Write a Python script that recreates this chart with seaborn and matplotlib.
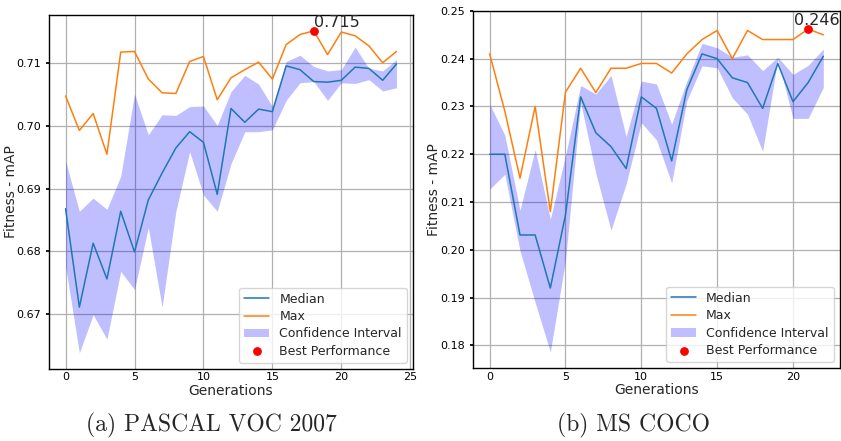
import numpy as np
import pandas as pd
import matplotlib
matplotlib.use("Agg")
import matplotlib.pyplot as plt
import seaborn as sns

# PASCAL VOC 2007, generations 0..24
median_voc = [0.6868, 0.6711, 0.6813, 0.6756, 0.6864, 0.6799, 0.6882, 0.6925, 0.6965, 0.6991,
              0.6974, 0.6891, 0.7028, 0.7006, 0.7027, 0.7023, 0.7096, 0.7090, 0.7071, 0.7070,
              0.7073, 0.7094, 0.7092, 0.7073, 0.7099]
max_voc = [0.7048, 0.6993, 0.7020, 0.6955, 0.7118, 0.7119, 0.7075, 0.7053, 0.7052, 0.7103,
           0.7111, 0.7042, 0.7077, 0.7090, 0.7102, 0.7075, 0.7130, 0.7146, 0.7152, 0.7114,
           0.7150, 0.7144, 0.7128, 0.7101, 0.7119]
upper_voc = [0.6944, 0.6864, 0.6885, 0.6867, 0.6920, 0.7051, 0.6986, 0.7018, 0.7017, 0.7031,
             0.7032, 0.7001, 0.7055, 0.7081, 0.7067, 0.7031, 0.7103, 0.7113, 0.7095, 0.7088,
             0.7090, 0.7126, 0.7092, 0.7088, 0.7106]
lower_voc = [0.6776, 0.6638, 0.6699, 0.6660, 0.6768, 0.6739, 0.6838, 0.6711, 0.6864, 0.6959,
             0.6890, 0.6864, 0.6940, 0.6991, 0.6991, 0.6994, 0.7041, 0.7069, 0.7071, 0.7041,
             0.7069, 0.7068, 0.7074, 0.7056, 0.7061]

# MS COCO, generations 0..22
median_coco = [0.2200, 0.2200, 0.2031, 0.2031, 0.1920, 0.2073, 0.2320, 0.2245, 0.2216, 0.2170,
               0.2320, 0.2296, 0.2186, 0.2335, 0.2410, 0.2400, 0.2360, 0.2350, 0.2296, 0.2390,
               0.2310, 0.2350, 0.2405]
max_coco = [0.2410, 0.2290, 0.2150, 0.2300, 0.2080, 0.2330, 0.2380, 0.2329, 0.2380, 0.2380,
            0.2390, 0.2390, 0.2370, 0.2410, 0.2440, 0.2459, 0.2400, 0.2459, 0.2440, 0.2440,
            0.2440, 0.2462, 0.2450]
upper_coco = [0.2305, 0.2240, 0.2083, 0.2210, 0.2064, 0.2197, 0.2344, 0.2326, 0.2365, 0.2237,
              0.2353, 0.2347, 0.2263, 0.2353, 0.2432, 0.2423, 0.2403, 0.2408, 0.2375, 0.2403,
              0.2367, 0.2386, 0.2420]
lower_coco = [0.2127, 0.2158, 0.1998, 0.1890, 0.1786, 0.1978, 0.2308, 0.2160, 0.2041, 0.2138,
              0.2266, 0.2230, 0.2140, 0.2312, 0.2385, 0.2381, 0.2318, 0.2284, 0.2206, 0.2399,
              0.2275, 0.2275, 0.2340]

captions = ["(a) PASCAL VOC 2007", "(b) MS COCO"]

sns.set_theme(style="whitegrid", rc={
    "axes.edgecolor": "black",
    "axes.linewidth": 1.0,
    "grid.color": "#b0b0b0",
    "grid.linewidth": 0.9,
    "xtick.bottom": True,
    "ytick.left": True,
    "xtick.major.size": 0,
    "ytick.major.size": 2.5,
    "xtick.major.pad": 2.5,
    "ytick.major.pad": 3.5,
    "xtick.color": "black",
    "ytick.color": "black",
})
plt.rcParams["font.family"] = ["DejaVu Sans"]


def draw(ax, median, maxv, upper, lower, text_dx, label_x):
    df = pd.DataFrame({"gen": np.arange(len(median)), "median": median, "max": maxv,
                       "upper": upper, "lower": lower})
    sns.lineplot(data=df, x="gen", y="median", ax=ax, color="#1f77b4", lw=1.1, label="Median")
    sns.lineplot(data=df, x="gen", y="max", ax=ax, color="#ff7f0e", lw=1.1, label="Max")
    ax.fill_between(df["gen"], df["lower"], df["upper"], color="blue", alpha=0.25,
                    lw=0, label="Confidence Interval")
    best = df["max"].idxmax()
    ax.scatter(df["gen"][best], df["max"][best], color="red", s=28, zorder=5,
               label="Best Performance")
    ax.annotate(f"{df['max'][best]:.3f}", (df["gen"][best], df["max"][best]),
                xytext=(text_dx, 3), textcoords="offset points", fontsize=11.5)
    ax.set_xlabel("Generations", fontsize=10, labelpad=1)
    ax.set_ylabel("Fitness - mAP", fontsize=10)
    ax.yaxis.set_label_coords(label_x, 0.5)
    ax.tick_params(labelsize=8)
    ax.legend(loc="lower right", fontsize=9, framealpha=0.8, borderpad=0.4,
              handlelength=2.0, labelspacing=0.35)


fig = plt.figure(figsize=(8.41, 4.41), dpi=100)
ax1 = fig.add_axes([0.0583, 0.1633, 0.4328, 0.8034])
ax2 = fig.add_axes([0.5624, 0.1651, 0.4364, 0.8102])

draw(ax1, median_voc, max_voc, upper_voc, lower_voc, 0, -0.085)
draw(ax2, median_coco, max_coco, upper_coco, lower_coco, -10, -0.087)
ax1.set_yticks([0.67, 0.68, 0.69, 0.70, 0.71])
ax2.set_yticks([0.18, 0.19, 0.20, 0.21, 0.22, 0.23, 0.24, 0.25])
ax1.yaxis.set_major_formatter(matplotlib.ticker.FormatStrFormatter("%.2f"))
ax2.yaxis.set_major_formatter(matplotlib.ticker.FormatStrFormatter("%.2f"))

fig.text(0.251, 0.036, captions[0], ha="center", va="center", fontsize=17, family="cmr10")
fig.text(0.753, 0.036, captions[1], ha="center", va="center", fontsize=17, family="cmr10")

fig.savefig("out.png", dpi=100)
